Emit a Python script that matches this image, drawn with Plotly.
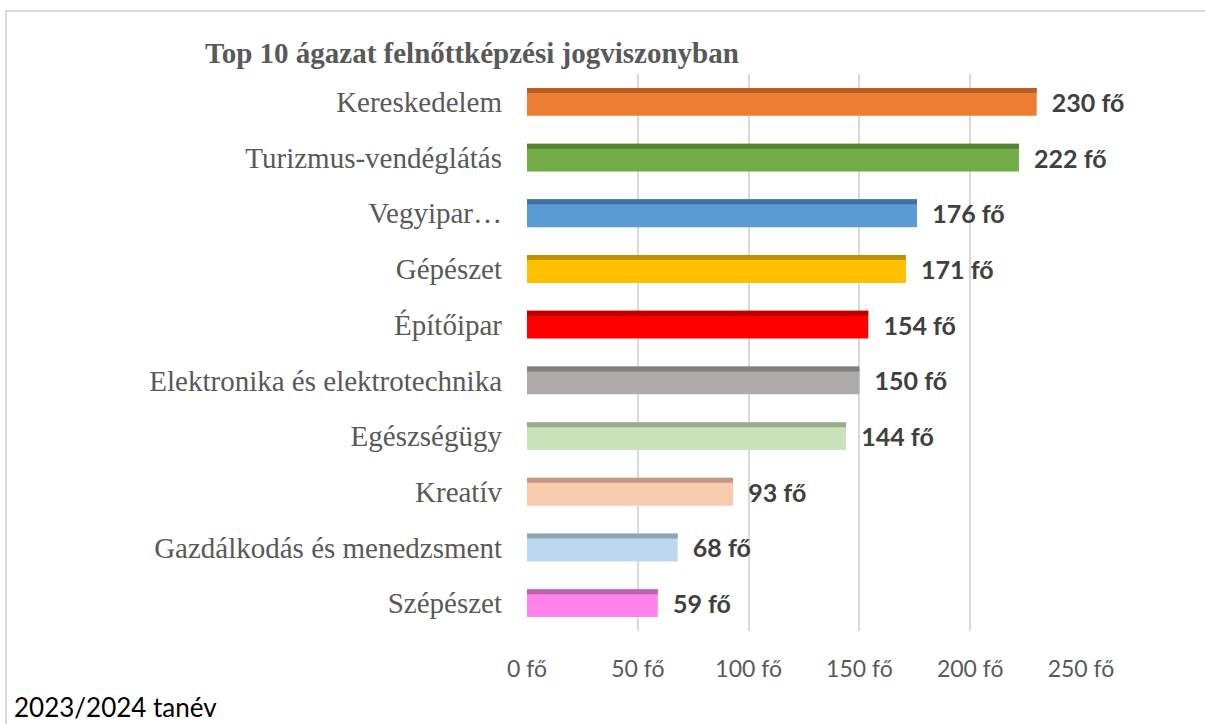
import plotly.graph_objects as go

categories = ["Kereskedelem", "Turizmus-vendéglátás", "Vegyipar…", "Gépészet", "Építőipar",
              "Elektronika és elektrotechnika", "Egészségügy", "Kreatív",
              "Gazdálkodás és menedzsment", "Szépészet"]
values = [230, 222, 176, 171, 154, 150, 144, 93, 68, 59]
fill_colors = ["#ED7D31", "#70AD47", "#5B9BD5", "#FFC000", "#FF0000",
               "#AFABAB", "#C8E3B9", "#F8CBAD", "#BDD7EE", "#FF81EB"]
top_colors = ["#B85E24", "#548235", "#41719C", "#BF9000", "#C00000",
              "#837F7F", "#98AB8C", "#C29A84", "#8EA3B5", "#BF60B0"]
tick_vals = [0, 50, 100, 150, 200, 250]
tick_text = [f"{v} fő" for v in tick_vals]
title_text = "Top 10 ágazat felnőttképzési jogviszonyban"
footer_text = "2023/2024 tanév"

# plot area in pixels
W, H = 1205, 724
L, R, T, B = 527, 1081, 74, 631

fig = go.Figure()
fig.add_trace(go.Bar(
    y=categories, x=values, orientation="h",
    marker=dict(color=fill_colors, line=dict(width=0)),
    width=0.5, offset=-0.25,
    text=[f"\u00a0\u00a0{v} fő" for v in values],
    textposition="outside", cliponaxis=False, constraintext="none",
    textfont=dict(family="Lato", size=25, color="#404040", weight="bold"),
    hoverinfo="skip",
))
fig.add_trace(go.Bar(
    y=categories, x=values, orientation="h",
    marker=dict(color=top_colors, line=dict(width=0)),
    width=0.09, offset=-0.25,
    hoverinfo="skip",
))

def px_x(p):
    return (p - L) / (R - L)

def px_y(p):
    return (B - p) / (B - T)

fig.update_layout(
    width=W, height=H,
    margin=dict(l=L, r=W - R, t=T, b=H - B),
    barmode="overlay",
    showlegend=False,
    plot_bgcolor="white", paper_bgcolor="white",
    title=dict(text=title_text, xref="container", yref="container",
               x=205 / W, xanchor="left", y=1 - 53 / H, yanchor="middle",
               font=dict(family="Liberation Serif", size=29, color="#595959", weight="bold")),
    xaxis=dict(range=[0, 250], tickvals=tick_vals, ticktext=tick_text,
               showgrid=True, gridcolor="#D9D9D9", gridwidth=1.5,
               zeroline=False, showline=False, ticks="",
               ticklabelstandoff=22,
               tickfont=dict(family="Lato", size=23, color="#595959")),
    yaxis=dict(autorange="reversed", showgrid=False, zeroline=False, showline=False,
               ticks="", ticklabelstandoff=24,
               tickfont=dict(family="Liberation Serif", size=29, color="#595959")),
    shapes=[dict(type="rect", xref="paper", yref="paper",
                 x0=px_x(6), x1=px_x(1215), y0=px_y(740), y1=px_y(11),
                 line=dict(color="#D9D9D9", width=2), fillcolor="rgba(0,0,0,0)", layer="below")],
    annotations=[dict(text=footer_text, xref="paper", yref="paper",
                      x=px_x(12), y=px_y(707), xanchor="left", yanchor="middle",
                      showarrow=False,
                      font=dict(family="Lato", size=26, color="#000000"))],
)

fig.write_html("out.html", config={"displayModeBar": False},
               post_script="document.body.style.margin='0';")
